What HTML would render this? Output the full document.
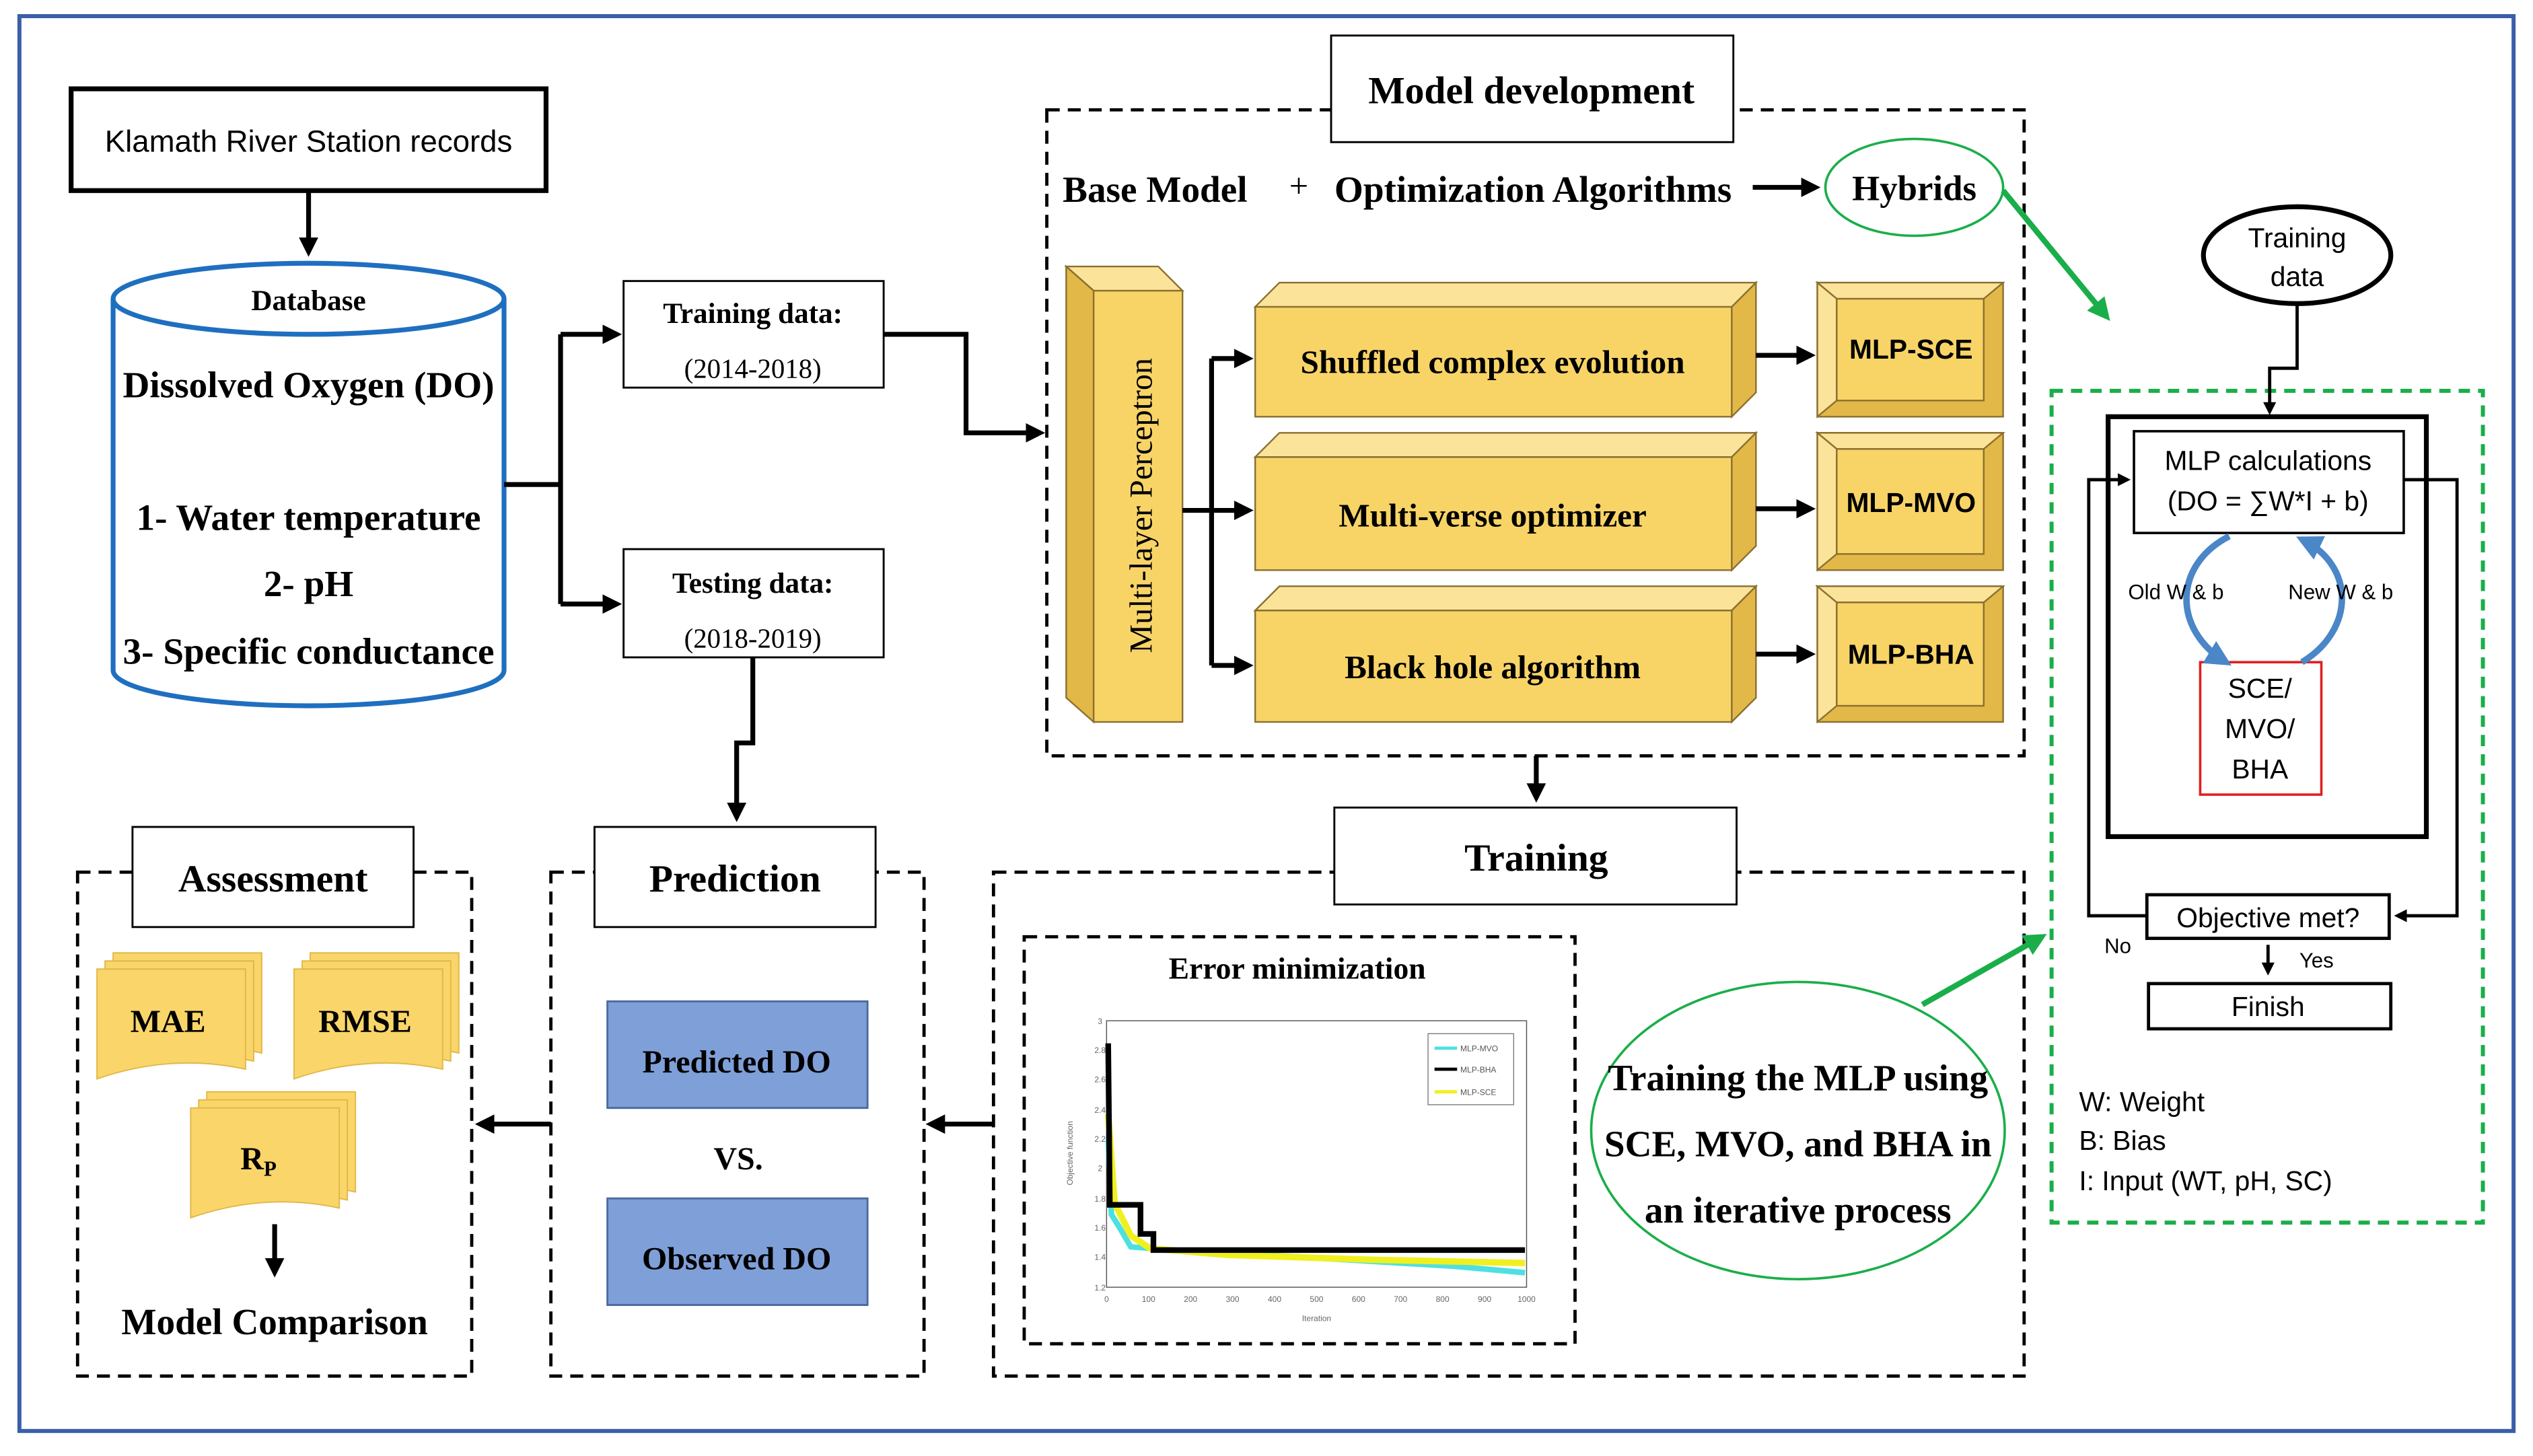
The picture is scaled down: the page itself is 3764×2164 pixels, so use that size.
<!DOCTYPE html>
<html><head><meta charset="utf-8"><style>html,body{margin:0;padding:0;background:#fff}svg{display:block}</style></head>
<body>
<svg width="3764" height="2164" viewBox="0 0 1568 901.5" xmlns="http://www.w3.org/2000/svg">
<defs>
<marker id="ar" markerWidth="4" markerHeight="4" refX="3" refY="2" orient="auto" markerUnits="strokeWidth"><path d="M0,0 L4,2 L0,4 z" fill="#000"/></marker>
<marker id="ag" markerWidth="4" markerHeight="4" refX="3" refY="2" orient="auto" markerUnits="strokeWidth"><path d="M0,0 L4,2 L0,4 z" fill="#1aae4a"/></marker>
<marker id="ab" markerWidth="4" markerHeight="4" refX="3" refY="2" orient="auto" markerUnits="strokeWidth"><path d="M0,0 L4,2 L0,4 z" fill="#4a86c8"/></marker>
</defs>
<g font-family="Liberation Serif, serif" font-weight="bold" text-anchor="middle">
<rect x="12" y="10" width="1544" height="876" fill="none" stroke="#3a5fa8" stroke-width="2.5"/>

<rect x="44" y="55" width="294" height="63" fill="#fff" stroke="#000" stroke-width="3"/>
<text x="191" y="94" font-family="Liberation Sans, sans-serif" font-weight="normal" font-size="19">Klamath River Station records</text>
<line x1="191" y1="118" x2="191" y2="156" stroke="#000" stroke-width="3" marker-end="url(#ar)"/>

<path d="M70,185 L70,415 A121,22 0 0 0 312,415 L312,185" fill="#fff" stroke="#1f6fc0" stroke-width="3"/>
<ellipse cx="191" cy="185" rx="121" ry="22" fill="#fff" stroke="#1f6fc0" stroke-width="3"/>
<text x="191" y="192" font-size="18">Database</text>
<text x="191" y="246" font-size="23">Dissolved Oxygen (DO)</text>
<text x="191" y="328" font-size="23">1- Water temperature</text>
<text x="191" y="369" font-size="23">2- pH</text>
<text x="191" y="411" font-size="23">3- Specific conductance</text>

<path d="M312,300 L347,300 M347,207 L347,374" stroke="#000" stroke-width="3" fill="none"/>
<line x1="347" y1="207" x2="382" y2="207" stroke="#000" stroke-width="3" marker-end="url(#ar)"/>
<line x1="347" y1="374" x2="382" y2="374" stroke="#000" stroke-width="3" marker-end="url(#ar)"/>

<rect x="386" y="174" width="161" height="66" fill="#fff" stroke="#000" stroke-width="1.2"/>
<text x="466" y="200" font-size="18">Training data:</text>
<text x="466" y="234" font-size="17" font-weight="normal">(2014-2018)</text>
<rect x="386" y="340" width="161" height="67" fill="#fff" stroke="#000" stroke-width="1.2"/>
<text x="466" y="367" font-size="18">Testing data:</text>
<text x="466" y="401" font-size="17" font-weight="normal">(2018-2019)</text>

<path d="M547,207 L598,207 L598,268 L644,268" stroke="#000" stroke-width="3" fill="none" marker-end="url(#ar)"/>
<path d="M466,407 L466,460 L456,460 L456,506" stroke="#000" stroke-width="3" fill="none" marker-end="url(#ar)"/>

<rect x="648" y="68" width="605" height="400" fill="none" stroke="#000" stroke-width="2" stroke-dasharray="8,5"/>
<rect x="824" y="22" width="249" height="66" fill="#fff" stroke="#000" stroke-width="1.2"/>
<text x="948" y="64" font-size="24">Model development</text>
<text x="715" y="125" font-size="23">Base Model</text>
<text x="804" y="122" font-size="21" font-weight="normal">+</text>
<text x="949" y="125" font-size="23">Optimization Algorithms</text>
<line x1="1085" y1="116" x2="1124" y2="116" stroke="#000" stroke-width="3" marker-end="url(#ar)"/>
<ellipse cx="1185" cy="116" rx="55" ry="30" fill="#fff" stroke="#1aae4a" stroke-width="1.5"/>
<text x="1185" y="124" font-size="22">Hybrids</text>
<line x1="1240" y1="118" x2="1304" y2="196" stroke="#1aae4a" stroke-width="3.5" marker-end="url(#ag)"/>

<g stroke="#8a7030" stroke-width="1">
<polygon points="660,165 717,165 732,180 677,180" fill="#fbe49a"/>
<polygon points="660,165 677,180 677,447 660,432" fill="#e2b848"/>
<rect x="677" y="180" width="55" height="267" fill="#f8d467"/>
</g>
<text transform="translate(713,313) rotate(-90)" font-size="20" font-weight="normal">Multi-layer Perceptron</text>
<path d="M732,316 L750,316 M750,222 L750,412" stroke="#000" stroke-width="3" fill="none"/>
<line x1="750" y1="222" x2="773" y2="222" stroke="#000" stroke-width="3" marker-end="url(#ar)"/>
<line x1="750" y1="316" x2="773" y2="316" stroke="#000" stroke-width="3" marker-end="url(#ar)"/>
<line x1="750" y1="412" x2="773" y2="412" stroke="#000" stroke-width="3" marker-end="url(#ar)"/>

<g stroke="#8a7030" stroke-width="1">
<polygon points="777,190 792,175 1087,175 1072,190" fill="#fbe49a"/>
<polygon points="1072,190 1087,175 1087,243 1072,258" fill="#e2b848"/>
<rect x="777" y="190" width="295" height="68" fill="#f8d467"/>
<polygon points="777,283 792,268 1087,268 1072,283" fill="#fbe49a"/>
<polygon points="1072,283 1087,268 1087,338 1072,353" fill="#e2b848"/>
<rect x="777" y="283" width="295" height="70" fill="#f8d467"/>
<polygon points="777,378 792,363 1087,363 1072,378" fill="#fbe49a"/>
<polygon points="1072,378 1087,363 1087,432 1072,447" fill="#e2b848"/>
<rect x="777" y="378" width="295" height="69" fill="#f8d467"/>
</g>
<text x="924" y="231" font-size="20.5">Shuffled complex evolution</text>
<text x="924" y="326" font-size="20.5">Multi-verse optimizer</text>
<text x="924" y="420" font-size="20.5">Black hole algorithm</text>
<line x1="1087" y1="220" x2="1121" y2="220" stroke="#000" stroke-width="3" marker-end="url(#ar)"/>
<line x1="1087" y1="315" x2="1121" y2="315" stroke="#000" stroke-width="3" marker-end="url(#ar)"/>
<line x1="1087" y1="405" x2="1121" y2="405" stroke="#000" stroke-width="3" marker-end="url(#ar)"/>

<g stroke="#8a7030" stroke-width="1">
<rect x="1125" y="175" width="115" height="83" fill="#e2b848"/>
<polygon points="1125,175 1240,175 1228,185 1137,185" fill="#fbe49a"/>
<polygon points="1125,175 1137,185 1137,248 1125,258" fill="#fbe49a"/>
<rect x="1137" y="185" width="91" height="63" fill="#f8d467"/>
<rect x="1125" y="268" width="115" height="85" fill="#e2b848"/>
<polygon points="1125,268 1240,268 1228,278 1137,278" fill="#fbe49a"/>
<polygon points="1125,268 1137,278 1137,343 1125,353" fill="#fbe49a"/>
<rect x="1137" y="278" width="91" height="65" fill="#f8d467"/>
<rect x="1125" y="363" width="115" height="84" fill="#e2b848"/>
<polygon points="1125,363 1240,363 1228,373 1137,373" fill="#fbe49a"/>
<polygon points="1125,363 1137,373 1137,437 1125,447" fill="#fbe49a"/>
<rect x="1137" y="373" width="91" height="64" fill="#f8d467"/>
</g>
<g font-family="Liberation Sans, sans-serif" font-size="17">
<text x="1183" y="222">MLP-SCE</text>
<text x="1183" y="317">MLP-MVO</text>
<text x="1183" y="411">MLP-BHA</text>
</g>

<line x1="951" y1="468" x2="951" y2="494" stroke="#000" stroke-width="3" marker-end="url(#ar)"/>

<rect x="615" y="540" width="638" height="312" fill="none" stroke="#000" stroke-width="2" stroke-dasharray="8,5"/>
<rect x="826" y="500" width="249" height="60" fill="#fff" stroke="#000" stroke-width="1.2"/>
<text x="951" y="539" font-size="24">Training</text>
<rect x="634" y="580" width="341" height="252" fill="none" stroke="#000" stroke-width="2" stroke-dasharray="8,5"/>
<text x="803" y="606" font-size="19">Error minimization</text>
<rect x="685" y="632" width="260" height="165" fill="#fff" stroke="#555" stroke-width="0.6"/>
<g font-family="Liberation Sans, sans-serif" font-weight="normal" font-size="5" fill="#666">
<text x="681" y="799">1.2</text><text x="681" y="780">1.4</text><text x="681" y="762">1.6</text><text x="681" y="744">1.8</text><text x="681" y="725">2</text><text x="681" y="707">2.2</text><text x="681" y="689">2.4</text><text x="681" y="670">2.6</text><text x="681" y="652">2.8</text><text x="681" y="634">3</text>
<text x="685" y="806">0</text><text x="711" y="806">100</text><text x="737" y="806">200</text><text x="763" y="806">300</text><text x="789" y="806">400</text><text x="815" y="806">500</text><text x="841" y="806">600</text><text x="867" y="806">700</text><text x="893" y="806">800</text><text x="919" y="806">900</text><text x="945" y="806">1000</text>
<text x="815" y="818">Iteration</text>
<text transform="translate(664,714) rotate(-90)">Objective function</text>
</g>
<path d="M686,705 L688,752 L693,760 L700,772 L740,775 L800,778 L900,784 L944,788" stroke="#4ee0e0" stroke-width="3.5" fill="none"/>
<path d="M686,690 L690,745 L700,765 L712,773 L760,777 L850,780 L944,782" stroke="#f0f020" stroke-width="4" fill="none"/>
<path d="M686,646 L687,746 L706,746 L706,764 L714,764 L714,774 L944,774" stroke="#000" stroke-width="3.5" fill="none"/>
<rect x="884" y="640" width="53" height="44" fill="#fff" stroke="#666" stroke-width="0.5"/>
<line x1="888" y1="649" x2="902" y2="649" stroke="#4ee0e0" stroke-width="2"/>
<line x1="888" y1="662" x2="902" y2="662" stroke="#000" stroke-width="2"/>
<line x1="888" y1="676" x2="902" y2="676" stroke="#f0f020" stroke-width="2"/>
<g font-family="Liberation Sans, sans-serif" font-weight="normal" font-size="5" fill="#555" text-anchor="start">
<text x="904" y="651">MLP-MVO</text><text x="904" y="664">MLP-BHA</text><text x="904" y="678">MLP-SCE</text>
</g>
<ellipse cx="1113" cy="700" rx="128" ry="92" fill="#fff" stroke="#1aae4a" stroke-width="1.5"/>
<text x="1113" y="675" font-size="23">Training the MLP using</text>
<text x="1113" y="716" font-size="23">SCE, MVO, and BHA in</text>
<text x="1113" y="757" font-size="23">an iterative process</text>
<line x1="1190" y1="622" x2="1264" y2="580" stroke="#1aae4a" stroke-width="3.5" marker-end="url(#ag)"/>

<line x1="615" y1="696" x2="576" y2="696" stroke="#000" stroke-width="3" marker-end="url(#ar)"/>
<rect x="341" y="540" width="231" height="312" fill="none" stroke="#000" stroke-width="2" stroke-dasharray="8,5"/>
<rect x="368" y="512" width="174" height="62" fill="#fff" stroke="#000" stroke-width="1.2"/>
<text x="455" y="552" font-size="24">Prediction</text>
<rect x="376" y="620" width="161" height="66" fill="#7f9fd8" stroke="#4a6aa0" stroke-width="1.2"/>
<text x="456" y="664" font-size="20">Predicted DO</text>
<text x="457" y="724" font-size="20">VS.</text>
<rect x="376" y="742" width="161" height="66" fill="#7f9fd8" stroke="#4a6aa0" stroke-width="1.2"/>
<text x="456" y="786" font-size="20">Observed DO</text>
<line x1="341" y1="696" x2="297" y2="696" stroke="#000" stroke-width="3" marker-end="url(#ar)"/>

<rect x="48" y="540" width="244" height="312" fill="none" stroke="#000" stroke-width="2" stroke-dasharray="8,5"/>
<rect x="82" y="512" width="174" height="62" fill="#fff" stroke="#000" stroke-width="1.2"/>
<text x="169" y="552" font-size="24">Assessment</text>
<g fill="#f9d56a" stroke="#e0b848" stroke-width="0.8">
<path d="M70,590 h92 v62 q-46,-10 -92,6 z"/><path d="M65,595 h92 v62 q-46,-10 -92,6 z"/><path d="M60,600 h92 v62 q-46,-10 -92,6 z"/>
<path d="M192,590 h92 v62 q-46,-10 -92,6 z"/><path d="M187,595 h92 v62 q-46,-10 -92,6 z"/><path d="M182,600 h92 v62 q-46,-10 -92,6 z"/>
<path d="M128,676 h92 v62 q-46,-10 -92,6 z"/><path d="M123,681 h92 v62 q-46,-10 -92,6 z"/><path d="M118,686 h92 v62 q-46,-10 -92,6 z"/>
</g>
<text x="104" y="639" font-size="20">MAE</text>
<text x="226" y="639" font-size="20">RMSE</text>
<text x="160" y="724" font-size="20">R<tspan font-size="13" dy="4">P</tspan></text>
<line x1="170" y1="758" x2="170" y2="788" stroke="#000" stroke-width="3" marker-end="url(#ar)"/>
<text x="170" y="826" font-size="23">Model Comparison</text>

<rect x="1270" y="242" width="267" height="515" fill="none" stroke="#1aae4a" stroke-width="2.5" stroke-dasharray="7,5"/>
<ellipse cx="1422" cy="158" rx="58" ry="30" fill="#fff" stroke="#000" stroke-width="3"/>
<g font-family="Liberation Sans, sans-serif" font-weight="normal">
<text x="1422" y="153" font-size="17">Training</text>
<text x="1422" y="177" font-size="17">data</text>
</g>
<path d="M1422,188 L1422,228 L1405,228 L1405,255" stroke="#000" stroke-width="2" fill="none" marker-end="url(#ar)"/>
<rect x="1305" y="258" width="197" height="260" fill="none" stroke="#000" stroke-width="3"/>
<path d="M1329,567 L1293,567 L1293,297 L1317,297" stroke="#000" stroke-width="2" fill="none" marker-end="url(#ar)"/>
<path d="M1488,297 L1521,297 L1521,567 L1484,567" stroke="#000" stroke-width="2" fill="none" marker-end="url(#ar)"/>
<rect x="1321" y="267" width="167" height="63" fill="#fff" stroke="#000" stroke-width="1.5"/>
<rect x="1362" y="410" width="75" height="82" fill="#fff" stroke="#e02020" stroke-width="1.5"/>
<path d="M1380,332 C1345,350 1345,390 1378,410" stroke="#4a86c8" stroke-width="4" fill="none" marker-end="url(#ab)"/>
<path d="M1425,410 C1458,390 1458,350 1425,334" stroke="#4a86c8" stroke-width="4" fill="none" marker-end="url(#ab)"/>
<rect x="1329" y="554" width="150" height="27" fill="#fff" stroke="#000" stroke-width="2"/>
<line x1="1404" y1="585" x2="1404" y2="602" stroke="#000" stroke-width="2" marker-end="url(#ar)"/>
<rect x="1330" y="609" width="150" height="28" fill="#fff" stroke="#000" stroke-width="2"/>
<g font-family="Liberation Sans, sans-serif" font-weight="normal">
<text x="1404" y="291" font-size="17">MLP calculations</text>
<text x="1404" y="316" font-size="17">(DO = ∑W*I + b)</text>
<text x="1347" y="371" font-size="13">Old W &amp; b</text>
<text x="1449" y="371" font-size="13">New W &amp; b</text>
<text x="1399" y="432" font-size="17">SCE/</text>
<text x="1399" y="457" font-size="17">MVO/</text>
<text x="1399" y="482" font-size="17">BHA</text>
<text x="1404" y="574" font-size="17">Objective met?</text>
<text x="1311" y="590" font-size="13">No</text>
<text x="1434" y="599" font-size="13">Yes</text>
<text x="1404" y="629" font-size="17">Finish</text>
<g text-anchor="start" font-size="17">
<text x="1287" y="688">W: Weight</text>
<text x="1287" y="712">B: Bias</text>
<text x="1287" y="737">I: Input (WT, pH, SC)</text>
</g>
</g>
</g>
</svg>
</body></html>
